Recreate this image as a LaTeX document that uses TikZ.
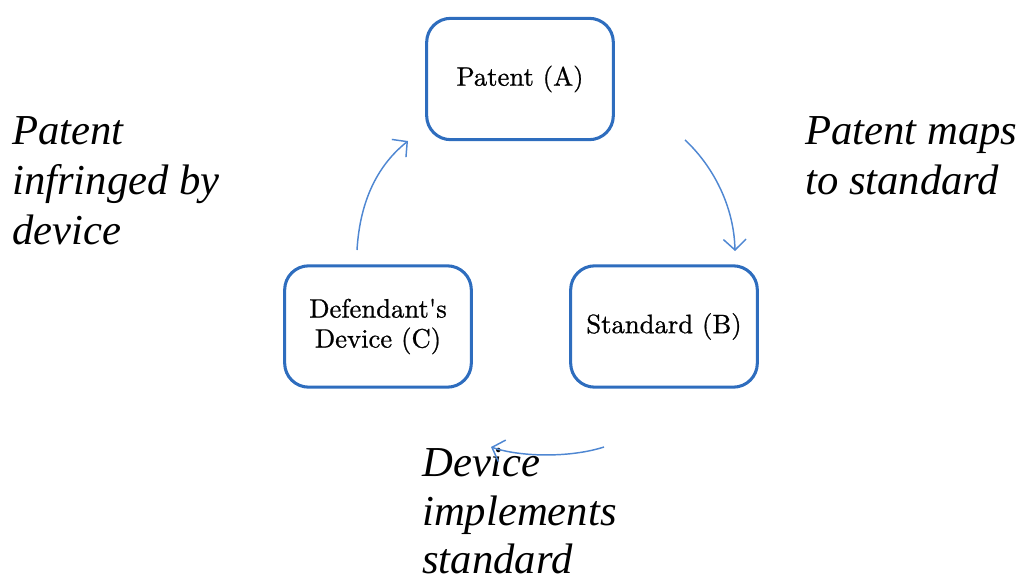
\documentclass[tikz,border=0pt]{standalone}
\usepackage{fontspec}
\newfontfamily\labfont{Liberation Serif}
\newfontfamily\boxfont{lmroman10-regular}[Extension=.otf, FakeBold=0.8]
\usetikzlibrary{arrows.meta}
\definecolor{boxblue}{HTML}{2E6DBE}
\definecolor{arrblue}{HTML}{4F87D2}
\begin{document}
\begin{tikzpicture}[x=0.75pt,y=-0.75pt,
  box/.style={draw=boxblue, line width=2.3pt, rounded corners=18pt,
    minimum width=140pt, minimum height=91pt, align=center, inner sep=0pt,
    font=\boxfont\fontsize{20}{22.5}\selectfont},
  lab/.style={font=\labfont\itshape\fontsize{32}{37.5}\selectfont, align=left,
    anchor=north west, inner sep=0pt},
  arr/.style={draw=arrblue, line width=1.1pt, -{Straight Barb[length=8pt,width=17pt]}}]
\useasboundingbox (0,0) rectangle (1021,578);
\clip (0,0) rectangle (1021,578);
\node[box] (A) at (520,79) {Patent (A)};
\node[box] (C) at (378,326.5) {Defendant's\\Device (C)};
\node[box] (B) at (664,326.5) {Standard (B)};
\node[lab] (l1) at (12,116) {Patent\\infringed by\\device};
\node[lab] (l2) at (805,116) {Patent maps\\to standard};
\node[lab, font=\labfont\itshape\fontsize{32}{36.5}\selectfont] (l3) at (422,448) {Device\\implements\\standard};
\coordinate (s1) at (357,250);
\coordinate (e1) at (408,141);
\coordinate (s2) at (685,140);
\coordinate (e2) at (735,251);
\coordinate (s3) at (604,447);
\coordinate (e3) at (491,447);
\draw[arr] (s1) .. controls (360,200) and (378,165) .. (e1);
\draw[arr] (s2) .. controls (712,165) and (734,205) .. (e2);
\draw[arr] (s3) .. controls (570,458) and (520,457) .. (e3);
\end{tikzpicture}
\end{document}
